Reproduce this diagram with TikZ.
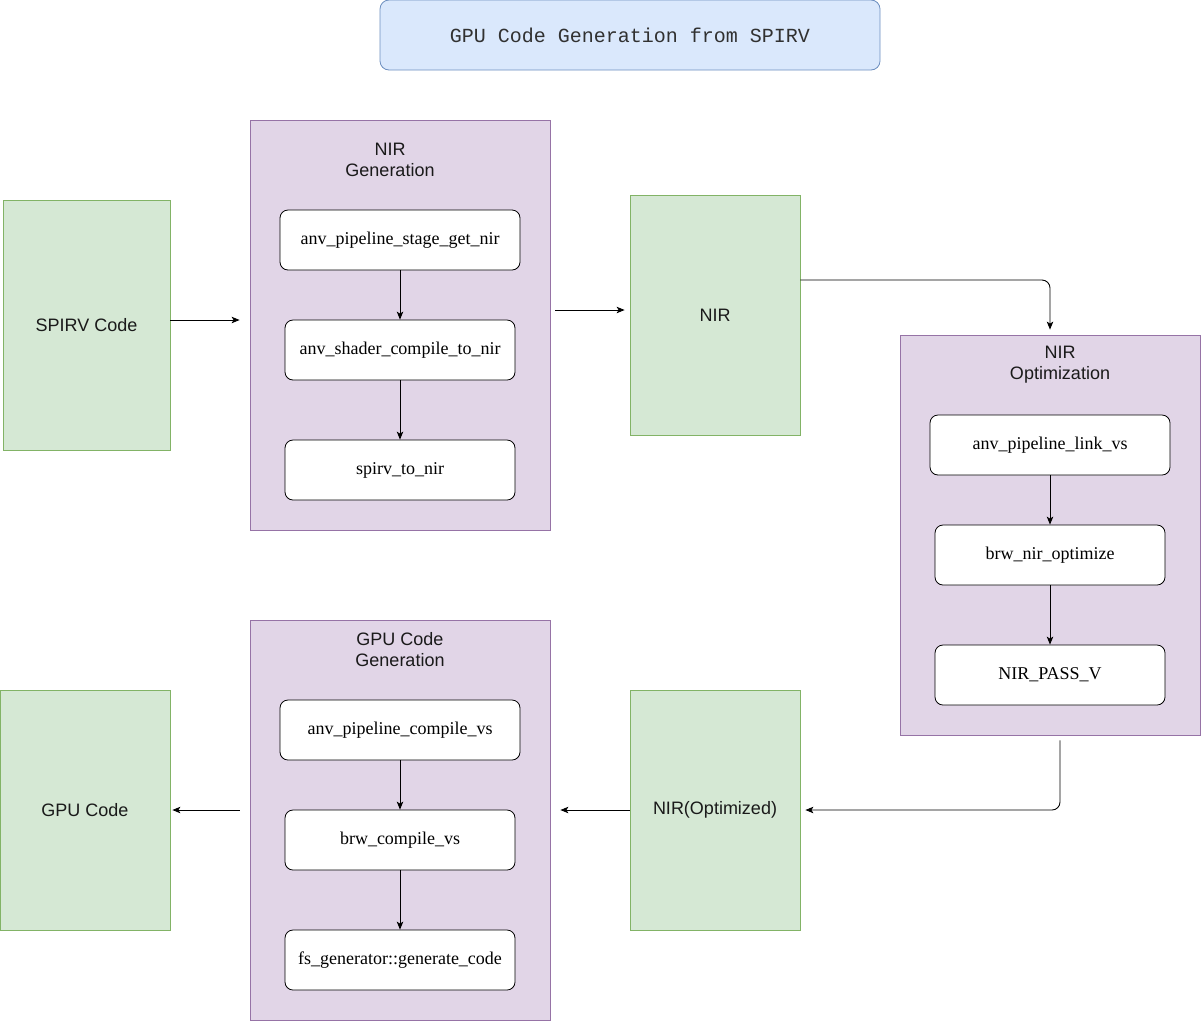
\documentclass[tikz,border=0pt]{standalone}
\usepackage{fontspec}
\setmainfont{Liberation Serif}
\setsansfont{Liberation Sans}
\setmonofont{Liberation Mono}
\usetikzlibrary{arrows.meta,calc}
\definecolor{blueF}{HTML}{DAE8FC}
\definecolor{blueS}{HTML}{6C8EBF}
\definecolor{greenF}{HTML}{D5E8D4}
\definecolor{greenS}{HTML}{82B366}
\definecolor{purpF}{HTML}{E1D5E7}
\definecolor{purpS}{HTML}{9673A6}
\definecolor{txt}{HTML}{1A1A1A}
\tikzset{
  titlebox/.style={draw=blueS,fill=blueF,rounded corners=9pt,line width=0.8pt,minimum width=500pt,minimum height=70pt,inner sep=0pt,font=\ttfamily\fontsize{20}{24}\selectfont,text=txt!90},
  databox/.style={draw=greenS,fill=greenF,line width=0.8pt,inner sep=0pt,font=\sffamily\fontsize{18}{21}\selectfont,text=txt},
  groupbox/.style={draw=purpS,fill=purpF,line width=0.8pt,minimum width=300pt,inner sep=0pt},
  grouptitle/.style={align=center,font=\sffamily\fontsize{18}{21}\selectfont,text=txt,inner sep=0pt},
  funcbox/.style={draw=black,fill=white,rounded corners=8pt,line width=0.8pt,minimum height=60pt,inner sep=0pt,font=\fontsize{18}{21}\selectfont},
  arr/.style={line width=0.9pt,-{Stealth[length=8pt,width=6.5pt,inset=2pt]}},
}
\begin{document}
\begin{tikzpicture}[x=1pt,y=-1pt]
\useasboundingbox (0,0) rectangle (1201,1021);
\node[titlebox] (title) at (630,35) {GPU Code Generation from SPIRV};

% left column top
\node[databox,minimum width=167pt,minimum height=250pt] (spirv) at (86.5,325) {SPIRV Code};
\node[groupbox,minimum height=410pt] (gen1) at (400,325) {};
\node[grouptitle] (gen1t) at (390,160) {NIR\\Generation};
\node[funcbox,minimum width=240pt] (b1) at (400,240) {anv\_pipeline\_stage\_get\_nir};
\node[funcbox,minimum width=230pt] (b2) at (400,350) {anv\_shader\_compile\_to\_nir};
\node[funcbox,minimum width=230pt] (b3) at (400,470) {spirv\_to\_nir};
\draw[arr] (b1) -- (b2);
\draw[arr] (b2) -- (b3);

\node[databox,minimum width=170pt,minimum height=240pt] (nir) at (715,315) {NIR};

% optimization
\node[groupbox,minimum height=400pt] (opt) at (1050,535) {};
\node[grouptitle] (optt) at (1060,365) {NIR\\Optimization};
\node[funcbox,minimum width=240pt] (c1) at (1050,445) {anv\_pipeline\_link\_vs};
\node[funcbox,minimum width=230pt] (c2) at (1050,555) {brw\_nir\_optimize};
\node[funcbox,minimum width=230pt] (c3) at (1050,675) {NIR\_PASS\_V};
\draw[arr] (c1) -- (c2);
\draw[arr] (c2) -- (c3);

\node[databox,minimum width=170pt,minimum height=240pt] (niropt) at (715,810) {NIR(Optimized)};

% code generation
\node[groupbox,minimum height=400pt] (gen2) at (400,820) {};
\node[grouptitle] (gen2t) at (400,650) {GPU Code\\Generation};
\node[funcbox,minimum width=240pt] (d1) at (400,730) {anv\_pipeline\_compile\_vs};
\node[funcbox,minimum width=230pt] (d2) at (400,840) {brw\_compile\_vs};
\node[funcbox,minimum width=230pt] (d3) at (400,960) {fs\_generator::generate\_code};
\draw[arr] (d1) -- (d2);
\draw[arr] (d2) -- (d3);

\node[databox,minimum width=170pt,minimum height=240pt] (gpu) at (85,810) {GPU Code};

% connectors
\draw[arr] ($(spirv.east)+(0,-5)$) -- ($(gen1.west)+(-10,-5)$);
\draw[arr] ($(gen1.east)+(5,-15)$) -- ($(nir.west)+(-5,-5)$);
\draw[arr,rounded corners=8pt] ($(nir.east)+(0,-35)$) -| ($(opt.north)+(0,-5)$);
\draw[arr,rounded corners=8pt] ($(opt.south)+(10,5)$) |- ($(niropt.east)+(5,0)$);
\draw[arr] (niropt.west) -- ($(gen2.east)+(10,-10)$);
\draw[arr] ($(gen2.west)+(-10,-10)$) -- ($(gpu.east)+(2,0)$);
\end{tikzpicture}
\end{document}
